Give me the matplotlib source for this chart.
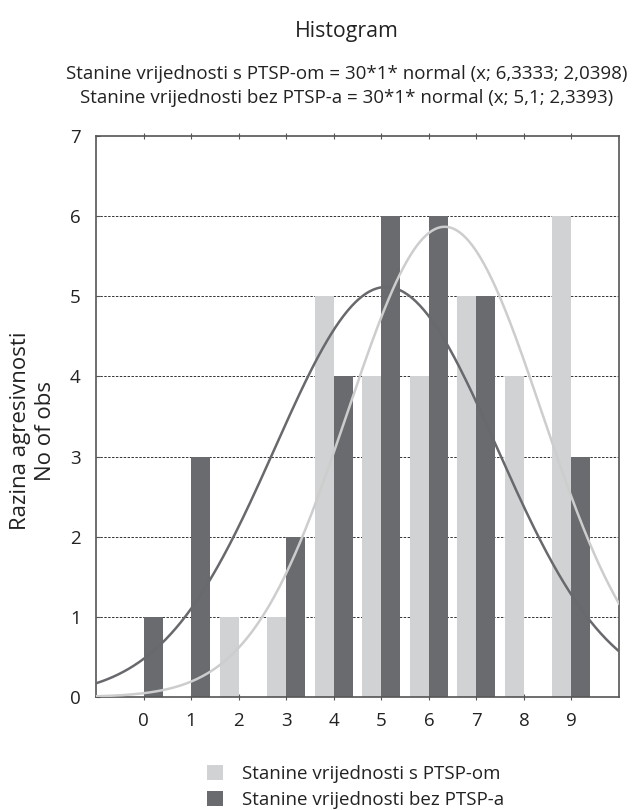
import numpy as np
import matplotlib
matplotlib.use("Agg")
import matplotlib.pyplot as plt
from matplotlib.patches import Patch

plt.rcParams['font.family'] = ['Open Sans', 'DejaVu Sans']

categories = [0, 1, 2, 3, 4, 5, 6, 7, 8, 9]
with_ptsp = [0, 0, 1, 1, 5, 4, 4, 5, 4, 6]
without_ptsp = [1, 3, 0, 2, 4, 6, 6, 5, 0, 3]
# normal fit parameters given in the chart subtitle
n_obs = 30
mean_with, sd_with = 6.3333, 2.0398
mean_without, sd_without = 5.1, 2.3393

label_with = "Stanine vrijednosti s PTSP-om"
label_without = "Stanine vrijednosti bez PTSP-a"
title = "Histogram"
subtitle1 = "Stanine vrijednosti s PTSP-om = 30*1* normal (x; 6,3333; 2,0398)"
subtitle2 = "Stanine vrijednosti bez PTSP-a = 30*1* normal (x; 5,1; 2,3393)"
ylabel = "Razina agresivnosti\nNo of obs"

light = "#d1d2d4"
dark = "#6a6b6f"
light_line = "#cdcdcd"
dark_line = "#68696d"
txt = "#222222"

fig = plt.figure(figsize=(6.32, 8.10), dpi=100)
ax = fig.add_axes([96/632, 1-697/810, (619-96)/632, (697-136)/810])

x = np.array(categories, dtype=float)
w = 0.4
ax.bar(x - w/2, with_ptsp, width=w, color=light, zorder=2)
ax.bar(x + w/2, without_ptsp, width=w, color=dark, zorder=2)

xs = np.linspace(-1, 10, 400)
def normal(xv, m, s):
    return np.exp(-0.5*((xv-m)/s)**2)/(s*np.sqrt(2*np.pi))
ax.plot(xs, n_obs*normal(xs, mean_without, sd_without), color=dark_line, lw=1.8, zorder=3)
ax.plot(xs, n_obs*normal(xs, mean_with, sd_with), color=light_line, lw=1.8, zorder=3)

ax.set_xlim(-1, 10)
ax.set_ylim(0, 7)
ax.set_xticks(categories)
ax.set_yticks(range(0, 8))
for yv in range(1, 7):
    ax.axhline(yv, color="#333333", lw=0.7, ls=(0, (2.5, 1.5)), zorder=1)

for sp in ax.spines.values():
    sp.set_color("#555555")
    sp.set_linewidth(1.2)

ax.tick_params(axis='x', direction='inout', length=5, top=True, width=0.8,
               color="#555555", labelsize=13.5, pad=8, labelcolor=txt)
ax.tick_params(axis='y', direction='in', length=3, width=0.8, color="#555555",
               labelsize=13.5, pad=11, labelcolor=txt)

fig.text(33/632, 1-431/810, ylabel, rotation=90, ha='center', va='center',
         multialignment='center', fontsize=16, color=txt, linespacing=1.25)

cx = 347/632
fig.text(cx, 1-31/810, title, ha='center', va='center', fontsize=15.3, color=txt)
fig.text(cx, 1-74/810, subtitle1, ha='center', va='center', fontsize=13.5, color=txt)
fig.text(cx, 1-98/810, subtitle2, ha='center', va='center', fontsize=13.5, color=txt)

handles = [Patch(facecolor=light, edgecolor='none', label=label_with),
           Patch(facecolor=dark, edgecolor='none', label=label_without)]
fig.legend(handles=handles, loc='center left', bbox_to_anchor=(190/632, 1-787/810),
           frameon=False, fontsize=13.5, handlelength=0.85, handleheight=0.85,
           handletextpad=1.0, labelspacing=0.45, labelcolor=txt)

fig.savefig("out.png", dpi=100)
